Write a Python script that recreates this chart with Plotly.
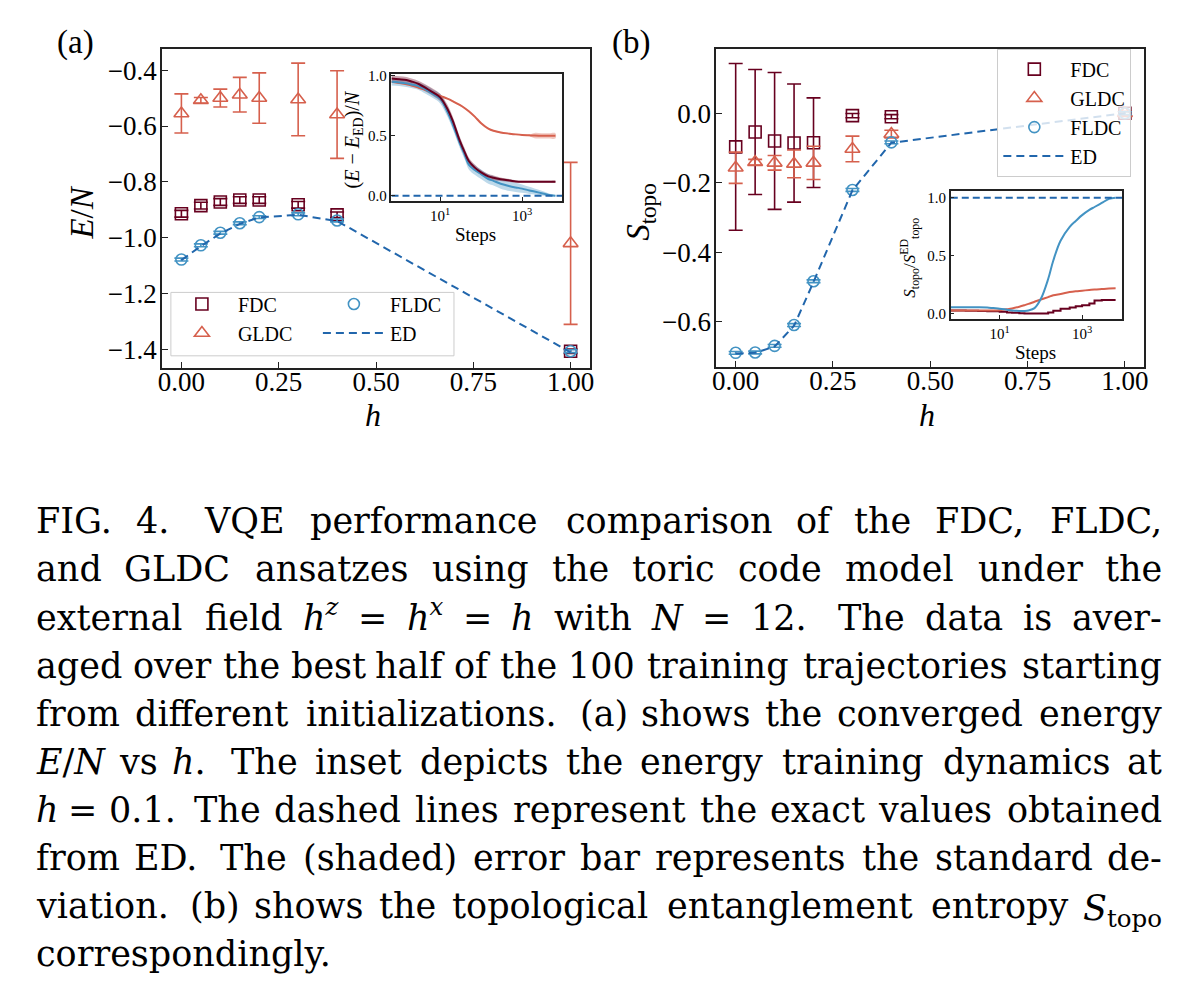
import re
import plotly.graph_objects as go

# ---------------- data ----------------
h = [0.0, 0.05, 0.1, 0.15, 0.2, 0.3, 0.4, 1.0]

# panel (a): converged energy E/N
fdc_a = [-0.914, -0.885, -0.872, -0.865, -0.865, -0.882, -0.918, -1.406]
fdc_a_err = [0.012, 0.012, 0.012, 0.012, 0.012, 0.012, 0.010, 0.008]
gldc_a = [-0.555, -0.508, -0.500, -0.488, -0.500, -0.505, -0.559, -1.020]
gldc_a_err = [0.070, 0.010, 0.032, 0.062, 0.090, 0.130, 0.157, 0.290]
fldc_a = [-1.078, -1.027, -0.982, -0.948, -0.926, -0.916, -0.938, -1.406]
fldc_a_err = [0.005, 0.005, 0.005, 0.005, 0.005, 0.005, 0.005, 0.005]
ed_a = [-1.080, -1.030, -0.985, -0.950, -0.927, -0.918, -0.940, -1.410]

# panel (b): topological entanglement entropy
fdc_b = [-0.097, -0.054, -0.080, -0.086, -0.085, -0.007, -0.010, 0.000]
fdc_b_err = [0.240, 0.180, 0.197, 0.170, 0.129, 0.006, 0.006, 0.005]
gldc_b = [-0.157, -0.141, -0.143, -0.146, -0.143, -0.103, -0.060, 0.000]
gldc_b_err = [0.045, 0.008, 0.021, 0.040, 0.048, 0.037, 0.011, 0.005]
fldc_b = [-0.690, -0.689, -0.670, -0.610, -0.484, -0.221, -0.084, 0.000]
fldc_b_err = [0.004, 0.004, 0.004, 0.004, 0.004, 0.004, 0.004, 0.004]
ed_b = [-0.692, -0.690, -0.672, -0.612, -0.486, -0.222, -0.085, 0.000]

# insets: training dynamics vs steps
steps = [0.65, 1, 1.5, 2, 3, 5, 7, 10, 15, 20, 30, 40, 50, 70, 100, 150,
         200, 300, 500, 700, 1000, 1500, 2000, 3000, 4500, 6500]
ins_a_fdc = [0.978, 0.972, 0.965, 0.953, 0.932, 0.888, 0.858, 0.820, 0.725, 0.630,
             0.460, 0.360, 0.290, 0.235, 0.195, 0.162, 0.150, 0.138, 0.128, 0.120,
             0.117, 0.117, 0.117, 0.117, 0.117, 0.117]
ins_a_fdc_std = [0.025, 0.025, 0.025, 0.025, 0.025, 0.03, 0.03, 0.03, 0.035, 0.035,
                 0.035, 0.035, 0.03, 0.025, 0.02, 0.02, 0.02, 0.015, 0.012, 0.01,
                 0.008, 0.008, 0.008, 0.008, 0.008, 0.008]
ins_a_fldc = [0.950, 0.945, 0.937, 0.928, 0.912, 0.875, 0.845, 0.810, 0.700, 0.600,
              0.440, 0.340, 0.260, 0.215, 0.180, 0.140, 0.125, 0.100, 0.080, 0.070,
              0.060, 0.045, 0.036, 0.022, 0.008, 0.000]
ins_a_fldc_std = [0.03, 0.03, 0.03, 0.03, 0.03, 0.035, 0.035, 0.04, 0.04, 0.04,
                  0.04, 0.04, 0.04, 0.04, 0.04, 0.04, 0.04, 0.04, 0.04, 0.038,
                  0.035, 0.03, 0.025, 0.02, 0.012, 0.005]
ins_a_gldc = [0.950, 0.940, 0.930, 0.920, 0.900, 0.875, 0.855, 0.833, 0.810, 0.790,
              0.757, 0.730, 0.705, 0.660, 0.605, 0.560, 0.542, 0.528, 0.518, 0.512,
              0.507, 0.504, 0.502, 0.500, 0.500, 0.500]
ins_a_gldc_std = [0.006, 0.006, 0.006, 0.006, 0.006, 0.006, 0.006, 0.006, 0.006, 0.006,
                  0.006, 0.006, 0.006, 0.006, 0.006, 0.006, 0.006, 0.006, 0.006, 0.006,
                  0.006, 0.008, 0.022, 0.022, 0.022, 0.022]
ins_b_fdc = [0.029, 0.029, 0.028, 0.027, 0.026, 0.024, 0.022, 0.018, 0.012, 0.009,
             0.005, 0.003, 0.003, 0.003, 0.004, 0.012, 0.028, 0.045, 0.055, 0.065,
             0.075, 0.090, 0.115, 0.120, 0.120, 0.120]
ins_b_gldc = [0.029, 0.029, 0.029, 0.029, 0.029, 0.029, 0.029, 0.032, 0.040, 0.047,
              0.062, 0.075, 0.086, 0.105, 0.124, 0.145, 0.160, 0.172, 0.188, 0.195,
              0.200, 0.206, 0.210, 0.214, 0.218, 0.220]
ins_b_fldc = [0.057, 0.057, 0.057, 0.057, 0.057, 0.055, 0.050, 0.045, 0.036, 0.030,
              0.026, 0.026, 0.030, 0.050, 0.130, 0.300, 0.460, 0.630, 0.750, 0.800,
              0.850, 0.895, 0.920, 0.955, 0.990, 1.000]
ed_steps = [0.65, 9500]
ins_a_ed = [0.0, 0.0]
ins_b_ed = [1.0, 1.0]

x_ticks = [0.0, 0.25, 0.5, 0.75, 1.0]
ya_ticks = [-1.4, -1.2, -1.0, -0.8, -0.6, -0.4]
yb_ticks = [-0.6, -0.4, -0.2, 0.0]
ins_x_ticks = [10, 1000]
ins_x_labels = ["10<sup>1</sup>", "10<sup>3</sup>"]
ins_y_ticks = [0.0, 0.5, 1.0]

caption_lines = [
    "FIG. 4. VQE performance comparison of the FDC, FLDC,",
    "and GLDC ansatzes using the toric code model under the",
    "external field <i>h</i><sup><i>z</i></sup> = <i>h</i><sup><i>x</i></sup> = <i>h</i> with <i>N</i> = 12. The data is aver-",
    "aged over the best half of the 100 training trajectories starting",
    "from different initializations. (a) shows the converged energy",
    "<i>E</i>/<i>N</i> vs <i>h</i>. The inset depicts the energy training dynamics at",
    "<i>h</i> = 0.1. The dashed lines represent the exact values obtained",
    "from ED. The (shaded) error bar represents the standard de-",
    "viation. (b) shows the topological entanglement entropy <i>S</i><sub>topo</sub>",
    "correspondingly.",
]

# ---------------- style ----------------
W, H = 1200, 998
C_FDC = "#67001f"
C_GLDC = "#d6604d"
C_FLDC = "#4393c3"
C_ED = "#2166ac"
SERIF = "Liberation Serif"
CAP_FONT = "DejaVu Serif"


def px(x):
    return x / W


def py(y):
    return 1 - y / H


def rgba(hexc, a):
    hexc = hexc.lstrip("#")
    r, g, b = int(hexc[0:2], 16), int(hexc[2:4], 16), int(hexc[4:6], 16)
    return f"rgba({r},{g},{b},{a})"


fig = go.Figure()


def err_trace(x, y, e, color, symbol, size, name, xa, ya, legend):
    fig.add_trace(go.Scatter(
        x=x, y=y, mode="markers", name=name, xaxis=xa, yaxis=ya, legend=legend,
        marker=dict(symbol=symbol, size=size, color=color,
                    line=dict(color=color, width=1.6)),
        error_y=dict(type="data", array=e, visible=True, color=color,
                     thickness=1.6, width=7),
    ))


# panel (a)
err_trace(h, fdc_a, fdc_a_err, C_FDC, "square-open", 12, "FDC", "x", "y", "legend")
err_trace(h, gldc_a, gldc_a_err, C_GLDC, "triangle-up-open", 13, "GLDC", "x", "y", "legend")
err_trace(h, fldc_a, fldc_a_err, C_FLDC, "circle-open", 11, "FLDC", "x", "y", "legend2")
fig.add_trace(go.Scatter(x=h, y=ed_a, mode="lines", name="ED", xaxis="x", yaxis="y",
                         legend="legend2",
                         line=dict(color=C_ED, width=2, dash="8px,5px")))

# panel (b)
err_trace(h, fdc_b, fdc_b_err, C_FDC, "square-open", 12, "FDC", "x2", "y2", "legend3")
err_trace(h, gldc_b, gldc_b_err, C_GLDC, "triangle-up-open", 13, "GLDC", "x2", "y2", "legend3")
err_trace(h, fldc_b, fldc_b_err, C_FLDC, "circle-open", 11, "FLDC", "x2", "y2", "legend3")
fig.add_trace(go.Scatter(x=h, y=ed_b, mode="lines", name="ED", xaxis="x2", yaxis="y2",
                         legend="legend3",
                         line=dict(color=C_ED, width=2, dash="8px,5px")))


def band(mean, std, color, xa, ya):
    up = [m + s for m, s in zip(mean, std)]
    lo = [m - s for m, s in zip(mean, std)]
    fig.add_trace(go.Scatter(
        x=steps + steps[::-1], y=up + lo[::-1], mode="lines", fill="toself",
        fillcolor=rgba(color, 0.35), line=dict(width=0, shape="spline"),
        hoverinfo="skip", showlegend=False, xaxis=xa, yaxis=ya))


def curve(y, color, xa, ya, shape="spline"):
    fig.add_trace(go.Scatter(x=steps, y=y, mode="lines", showlegend=False,
                             line=dict(color=color, width=2, shape=shape),
                             xaxis=xa, yaxis=ya))


# inset (a)
band(ins_a_gldc, ins_a_gldc_std, C_GLDC, "x3", "y3")
band(ins_a_fldc, ins_a_fldc_std, C_FLDC, "x3", "y3")
band(ins_a_fdc, ins_a_fdc_std, C_FDC, "x3", "y3")
curve(ins_a_gldc, C_GLDC, "x3", "y3")
curve(ins_a_fldc, C_FLDC, "x3", "y3")
curve(ins_a_fdc, C_FDC, "x3", "y3")
fig.add_trace(go.Scatter(x=ed_steps, y=ins_a_ed, mode="lines", showlegend=False,
                         line=dict(color=C_ED, width=2, dash="7px,4px"),
                         xaxis="x3", yaxis="y3"))

# inset (b)
curve(ins_b_fdc, C_FDC, "x4", "y4", shape="hv")
curve(ins_b_gldc, C_GLDC, "x4", "y4")
curve(ins_b_fldc, C_FLDC, "x4", "y4")
fig.add_trace(go.Scatter(x=ed_steps, y=ins_b_ed, mode="lines", showlegend=False,
                         line=dict(color=C_ED, width=2, dash="7px,4px"),
                         xaxis="x4", yaxis="y4"))

# ---------------- axes ----------------
frame = dict(showline=True, mirror=True, linecolor="#222222", linewidth=1.5,
             showgrid=False, zeroline=False, ticks="inside", tickcolor="#222222")

main_tick_font = dict(family=SERIF, size=27, color="black")
ins_tick_font = dict(family=SERIF, size=15, color="black")

fig.update_layout(
    xaxis=dict(domain=[px(159), px(590)], range=[-0.05, 1.05], anchor="y",
               tickvals=x_ticks, tickformat=".2f", ticklen=6, tickwidth=1.2,
               tickfont=main_tick_font, ticklabelstandoff=-11, **frame),
    yaxis=dict(domain=[py(365), py(43)], range=[-1.465, -0.323], anchor="x",
               tickvals=ya_ticks, tickformat=".1f", ticklen=6, tickwidth=1.2,
               tickfont=main_tick_font, ticklabelstandoff=-2, **frame),
    xaxis2=dict(domain=[px(717), px(1148)], range=[-0.05, 1.05], anchor="y2",
                tickvals=x_ticks, tickformat=".2f", ticklen=6, tickwidth=1.2,
                tickfont=main_tick_font, ticklabelstandoff=-11, **frame),
    yaxis2=dict(domain=[py(364), py(43)], range=[-0.730, 0.186], anchor="x2",
                tickvals=yb_ticks, tickformat=".1f", ticklen=6, tickwidth=1.2,
                tickfont=main_tick_font, ticklabelstandoff=-2, **frame),
    xaxis3=dict(domain=[px(390), px(562)], type="log", range=[-0.19, 3.98],
                anchor="y3", tickvals=ins_x_ticks, ticktext=ins_x_labels,
                ticklen=4, tickwidth=1, tickfont=ins_tick_font, **frame),
    yaxis3=dict(domain=[py(197), py(69)], range=[-0.045, 1.012], anchor="x3",
                tickvals=ins_y_ticks, tickformat=".1f", ticklen=4, tickwidth=1,
                tickfont=ins_tick_font, **frame),
    xaxis4=dict(domain=[px(953), px(1126)], type="log", range=[-0.19, 3.98],
                anchor="y4", tickvals=ins_x_ticks, ticktext=ins_x_labels,
                ticklen=4, tickwidth=1, tickfont=ins_tick_font, **frame),
    yaxis4=dict(domain=[py(316), py(187)], range=[-0.045, 1.055], anchor="x4",
                tickvals=ins_y_ticks, tickformat=".1f", ticklen=4, tickwidth=1,
                tickfont=ins_tick_font, **frame),
)

# ---------------- legends ----------------
leg_font = dict(family=SERIF, size=20, color="black")
fig.update_layout(
    showlegend=True,
    legend=dict(x=px(163), y=py(281), xanchor="left", yanchor="top",
                bgcolor="rgba(0,0,0,0)", borderwidth=0, font=leg_font,
                itemwidth=62, tracegroupgap=0),
    legend2=dict(x=px(316), y=py(281), xanchor="left", yanchor="top",
                 bgcolor="rgba(0,0,0,0)", borderwidth=0, font=leg_font,
                 itemwidth=62, tracegroupgap=0),
    legend3=dict(x=px(1000), y=py(43), xanchor="left", yanchor="top",
                 bgcolor="rgba(255,255,255,0.8)", bordercolor="#cccccc",
                 borderwidth=1, font=leg_font, itemwidth=62, tracegroupgap=0),
)
fig.add_shape(type="rect", xref="paper", yref="paper",
              x0=px(168), x1=px(453), y0=py(353), y1=py(289),
              line=dict(color="#cccccc", width=1),
              fillcolor="rgba(255,255,255,0.8)", layer="above")

# ---------------- labels ----------------
ann = []


def label(x, y, text, size, angle=0, family=SERIF):
    ann.append(dict(x=px(x), y=py(y), xref="paper", yref="paper", text=text,
                    showarrow=False, xanchor="center", yanchor="middle",
                    textangle=angle, font=dict(family=family, size=size, color="black")))


label(72, 37, "(a)", 33)
label(631, 37, "(b)", 33)
label(79, 208, "<i>E</i>/<i>N</i>", 33, angle=-90)
label(371, 413, "<i>h</i>", 32)
label(640, 208, "<i>S</i><sub>topo</sub>", 33, angle=-90)
label(929, 413, "<i>h</i>", 32)
label(352, 135, "(<i>E</i> − <i>E</i><sub>ED</sub>)/<i>N</i>", 20, angle=-90)
label(475, 231, "Steps", 19)
label(912, 254, "<i>S</i><sub>topo</sub>/<i>S</i><sup>ED</sup><sub>topo</sub>", 17, angle=-90)
label(1038, 350, "Steps", 19)

# ---------------- caption (justified word by word) ----------------
CW = {
    'a': 596, 'b': 640, 'c': 560, 'd': 640, 'e': 592, 'f': 370, 'g': 640, 'h': 644,
    'i': 320, 'j': 310, 'k': 606, 'l': 320, 'm': 948, 'n': 644, 'o': 602, 'p': 640,
    'q': 640, 'r': 478, 's': 513, 't': 402, 'u': 644, 'v': 565, 'w': 856, 'x': 564,
    'y': 565, 'z': 523,
    'A': 722, 'B': 735, 'C': 730, 'D': 831, 'E': 730, 'F': 694, 'G': 812, 'H': 873,
    'I': 395, 'J': 400, 'K': 747, 'L': 664, 'M': 1024, 'N': 875, 'O': 820, 'P': 673,
    'Q': 820, 'R': 753, 'S': 685, 'T': 667, 'U': 843, 'V': 722, 'W': 1028, 'X': 712,
    'Y': 660, 'Z': 695,
    '.': 318, ',': 318, '(': 390, ')': 390, '-': 338, '=': 838, '/': 337,
}
for d in "0123456789":
    CW[d] = 636

CAP_SIZE = 35
CAP_L, CAP_R = 30, 1168
BASE0, LEAD = 533, 48.55
WIDTH_FUDGE = 1.04


def tok_width(tok, size):
    w, scale = 0.0, 1.0
    for part in re.split(r"(<[^>]+>)", tok):
        if part.startswith("<"):
            tag = part.strip("</>").lower()
            if tag in ("sup", "sub"):
                scale = 1.0 if part.startswith("</") else 0.7
            continue
        for ch in part:
            w += CW.get(ch, 600) * scale
    return w * size / 1000.0 * WIDTH_FUDGE


for i, line in enumerate(caption_lines):
    toks = line.split(" ")
    widths = [tok_width(t, CAP_SIZE) for t in toks]
    base = BASE0 + LEAD * i
    last = i == len(caption_lines) - 1
    n = len(toks)
    weights = [1.6 if (t.endswith(".") and t not in ("FIG.",)) else 1.0 for t in toks[:-1]]
    if last or n == 1:
        unit = 0.318 * CAP_SIZE
        gaps = [unit for _ in weights]
    else:
        extra = (CAP_R - CAP_L) - sum(widths)
        unit = extra / sum(weights)
        gaps = [unit * wgt for wgt in weights]
    cursor = CAP_L
    for j, (t, w) in enumerate(zip(toks, widths)):
        if j == 0:
            xa, xv = "left", cursor
        elif j == n - 1 and not last:
            xa, xv = "right", CAP_R
        else:
            xa, xv = "center", cursor + w / 2
        if "<sub>" in t:
            ya, yv = "top", base - 0.928 * CAP_SIZE - 1
        else:
            ya, yv = "bottom", base + 0.236 * CAP_SIZE + 1
        ann.append(dict(x=px(xv), y=py(yv), xref="paper", yref="paper", text=t,
                        showarrow=False, xanchor=xa, yanchor=ya,
                        font=dict(family=CAP_FONT, size=CAP_SIZE, color="black")))
        cursor += w + (gaps[j] if j < n - 1 else 0)

fig.update_layout(
    annotations=ann,
    width=W, height=H, autosize=False,
    margin=dict(l=0, r=0, t=0, b=0),
    paper_bgcolor="white", plot_bgcolor="white",
)

fig.write_html("out.html", config={"displayModeBar": False},
               post_script="document.body.style.margin='0px';")
